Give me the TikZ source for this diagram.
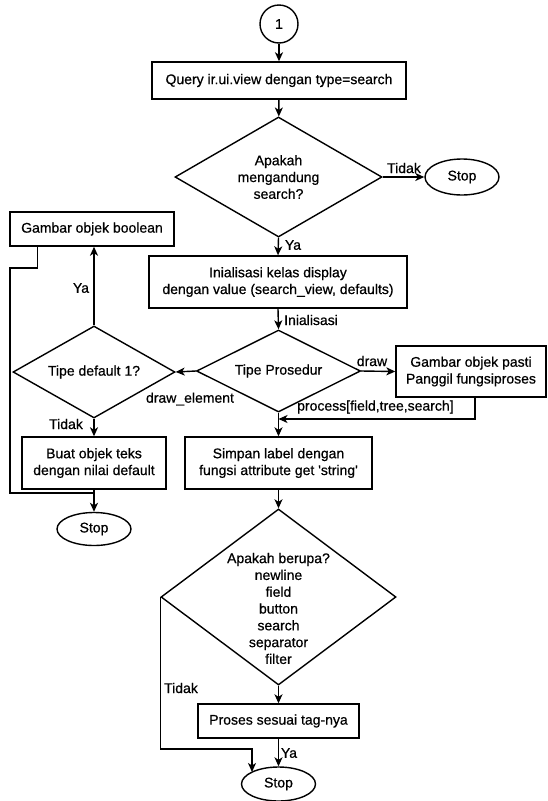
\documentclass[tikz,border=0pt]{standalone}
\usepackage{fontspec}
\setmainfont{Liberation Sans}[FakeBold=0.6]
\usetikzlibrary{shapes.geometric,arrows.meta}
\begin{document}
\begin{tikzpicture}[x=1pt,y=-1pt,
  every node/.style={font=\fontsize{14}{16.8}\selectfont},
  box/.style={draw, line width=1.4pt, rectangle, inner sep=0pt, align=center},
  dia/.style={draw, line width=1.4pt, diamond, inner sep=0pt},
  term/.style={draw, line width=1.4pt, ellipse, inner sep=0pt},
  txt/.style={inner sep=0pt, align=center},
  lbl/.style={inner sep=1pt},
  line/.style={line width=1.4pt},
  arr/.style={line width=1.4pt, -{Stealth[length=9pt,width=8pt,inset=2.5pt]}}
]
\useasboundingbox (0,0) rectangle (547,801);
\fill[white] (0,0) rectangle (547,801);

% nodes
\node[draw, circle, line width=1.4pt, minimum size=38pt, inner sep=0pt] (c1) at (279,24) {1};
\node[box, minimum width=254pt, minimum height=37pt] (q) at (279,80.5) {Query ir.ui.view dengan type=search};
\node[dia, minimum width=207pt, minimum height=120pt] (d1) at (278.5,177) {};
\node[txt] (d1t) at (d1) {Apakah\\mengandung\\search?};
\node[term, minimum width=74pt, minimum height=36pt] (s1) at (462,177) {Stop};
\node[box, minimum width=164pt, minimum height=34pt] (gb) at (92,229) {Gambar objek boolean};
\node[box, minimum width=258pt, minimum height=52pt] (ini) at (278,282) {Inialisasi kelas display\\dengan value (search\_view, defaults)};
\node[dia, minimum width=164pt, minimum height=82pt] (tp) at (278.5,371) {};
\node[txt] (tpt) at (tp) {Tipe Prosedur};
\node[box, minimum width=150pt, minimum height=51pt] (gp) at (471,371.5) {Gambar objek pasti\\Panggil fungsiproses};
\node[dia, minimum width=162pt, minimum height=92pt] (td) at (94,372) {};
\node[txt] (tdt) at (td) {Tipe default 1?};
\node[box, minimum width=144pt, minimum height=52pt] (bt) at (94,463) {Buat objek teks\\dengan nilai default};
\node[box, minimum width=187pt, minimum height=52pt] (sl) at (278.5,463) {Simpan label dengan\\fungsi attribute get \textquotesingle string\textquotesingle};
\node[term, minimum width=74pt, minimum height=33pt] (s2) at (94,529) {Stop};
\node[dia, minimum width=235pt, minimum height=176pt] (d3) at (278.5,597) {};
\node[txt] (d3t) at (278.5,608.5) {Apakah berupa?\\newline\\field\\button\\search\\separator\\filter};
\node[box, minimum width=161pt, minimum height=34pt] (pr) at (278.5,721) {Proses sesuai tag-nya};
\node[term, minimum width=74pt, minimum height=34pt] (s3) at (278.5,784) {Stop};

% helper coordinates
\coordinate (j1) at (94,493);
\coordinate (j2) at (278.5,419);
\coordinate (e3) at (252,772);

% connectors
\draw[arr] (c1) -- (q);
\draw[arr] (q) -- (d1);
\draw[arr] (d1.east) -- (s1.west);
\draw[arr] (d1.south) -- (ini.north);
\draw[arr] (ini.south) -- (tp.north);
\draw[arr] (tp.east) -- (gp.west);
\draw[arr] (tp.west) -- (td.east);
\draw[arr] (tp.south) -- (sl.north);
\draw[arr] ([xshift=4pt]gp.south) |- (j2);
\draw[arr] (td.north) -- (td.north |- gb.south);
\draw[arr] (td.south) -- (bt.north);
\draw[arr] (bt.south) -- (s2.north);
\draw[line] ([xshift=28pt]gb.south west) |- (10,268) -- (10,493) -- (j1);
\draw[arr] (sl.south) -- (d3.north);
\draw[arr] (d3.south) -- (pr.north);
\draw[arr] (pr.south) -- (s3.north);
\draw[arr] (d3.west) |- (252,749) -- (e3);

% labels
\node[lbl] (l1) at (404,168) {Tidak};
\node[lbl] (l2) at (293,245) {Ya};
\node[lbl, anchor=west] (l3) at (283,320) {Inialisasi};
\node[lbl] (l4) at (372,361) {draw};
\node[lbl] (l5) at (190,399) {draw\_element};
\node[lbl] (l6) at (81,288) {Ya};
\node[lbl] (l7) at (66,424) {Tidak};
\node[lbl, anchor=west] (l8) at (296,407) {process[field,tree,search]};
\node[lbl] (l9) at (181,688) {Tidak};
\node[lbl] (l10) at (289,753) {Ya};
\end{tikzpicture}
\end{document}
